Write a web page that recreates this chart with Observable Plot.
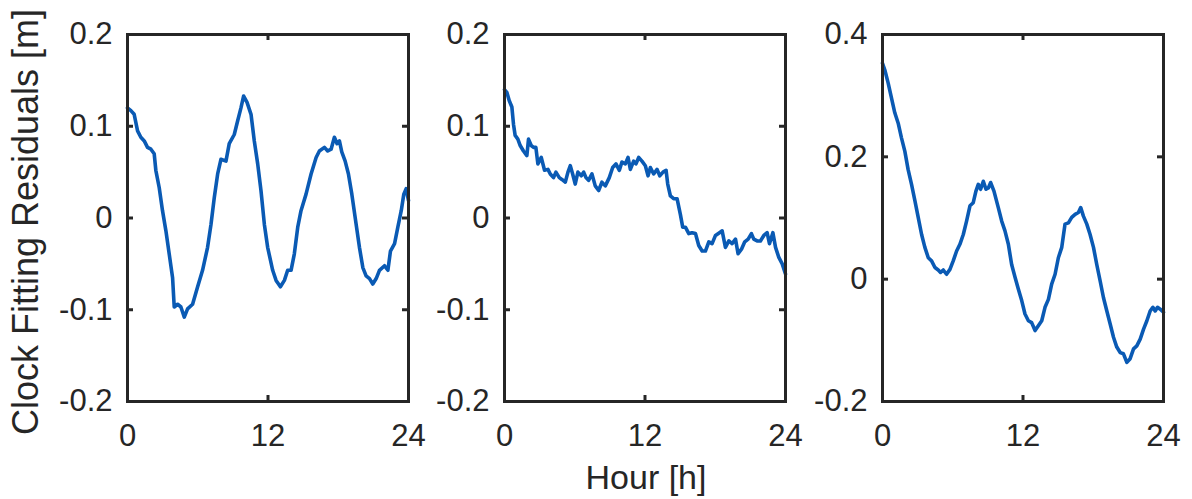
<!DOCTYPE html>
<html>
<head>
<meta charset="utf-8">
<script src="https://cdn.jsdelivr.net/npm/d3@7"></script>
<script src="https://cdn.jsdelivr.net/npm/@observablehq/plot@0.6"></script>
<style>
  html, body { margin: 0; padding: 0; background: #fff; }
  #chart { position: relative; width: 1192px; height: 499px; background: #fff; overflow: hidden;
           font-family: "Liberation Sans", Arial, Helvetica, sans-serif; color: #262626; }
  .panel { position: absolute; top: 0; }
  .panel svg { overflow: visible; background: transparent !important; }
  .ytitle { position: absolute; left: 26px; top: 222px; font-size: 36px; line-height: 1; white-space: nowrap;
            transform: translate(-50%, -50%) rotate(-90deg); }
  .xtitle { position: absolute; left: 646px; top: 477px; font-size: 34px; line-height: 1; white-space: nowrap;
            transform: translate(-50%, -50%); }
</style>
</head>
<body>
<div id="chart"></div>
<script>
// ---- data ----
const xTicks = [0, 12, 24];
const yTicksA = [-0.2, -0.1, 0, 0.1, 0.2];
const yTicksB = [-0.2, 0, 0.2, 0.4];
const xLabel = "Hour [h]";
const yLabel = "Clock Fitting Residuals [m]";

const hours1 = [0, 0.29, 0.57, 0.86, 1.14, 1.43, 1.71, 2.00, 2.28, 2.42,
  2.71, 2.99, 3.28, 3.56, 3.85, 3.99, 4.28, 4.56, 4.85, 5.13,
  5.56, 5.99, 6.41, 6.84, 7.13, 7.41, 7.70, 7.98, 8.41, 8.69,
  9.12, 9.41, 9.69, 9.92, 10.21, 10.55, 10.83, 11.12, 11.40, 11.69,
  11.97, 12.40, 12.69, 13.06, 13.40, 13.68, 13.97, 14.25, 14.54, 14.82,
  15.25, 15.68, 16.11, 16.39, 16.82, 17.10, 17.39, 17.67, 17.90, 18.10,
  18.30, 18.59, 18.87, 19.16, 19.53, 19.81, 20.10, 20.38, 20.67, 20.95,
  21.24, 21.52, 21.95, 22.24, 22.46, 22.81, 23.09, 23.38, 23.60, 23.80, 24.0];
const resid1 = [0.120, 0.117, 0.113, 0.095, 0.088, 0.084, 0.077, 0.075, 0.070, 0.052,
  0.033, 0.008, -0.014, -0.039, -0.065, -0.097, -0.094, -0.097, -0.108, -0.099,
  -0.094, -0.075, -0.057, -0.032, -0.007, 0.022, 0.048, 0.064, 0.062, 0.081,
  0.091, 0.106, 0.120, 0.133, 0.126, 0.113, 0.084, 0.059, 0.030, -0.007,
  -0.032, -0.057, -0.068, -0.075, -0.068, -0.057, -0.057, -0.039, -0.010, 0.008,
  0.026, 0.048, 0.066, 0.073, 0.077, 0.073, 0.075, 0.088, 0.081, 0.084,
  0.072, 0.062, 0.048, 0.026, -0.007, -0.032, -0.054, -0.063, -0.066, -0.072,
  -0.066, -0.057, -0.052, -0.057, -0.036, -0.028, -0.010, 0.008, 0.026, 0.032, 0.019];

const hours2 = [0, 0.20, 0.40, 0.63, 0.77, 0.91, 1.14, 1.34, 1.62, 1.91,
  2.05, 2.28, 2.48, 2.68, 2.85, 3.14, 3.42, 3.71, 3.91, 4.19,
  4.39, 4.68, 4.90, 5.19, 5.42, 5.62, 5.82, 6.04, 6.27, 6.56,
  6.76, 6.96, 7.18, 7.47, 7.75, 8.04, 8.32, 8.61, 8.95, 9.24,
  9.52, 9.81, 10.03, 10.32, 10.55, 10.75, 11.03, 11.23, 11.46, 11.74,
  12.03, 12.26, 12.46, 12.74, 13.03, 13.26, 13.54, 13.80, 13.94, 14.17,
  14.45, 14.74, 15.02, 15.22, 15.45, 15.74, 16.02, 16.31, 16.59, 16.88,
  17.16, 17.45, 17.73, 18.02, 18.36, 18.59, 18.87, 19.16, 19.44, 19.73,
  19.95, 20.24, 20.52, 20.81, 21.09, 21.29, 21.58, 21.86, 22.15, 22.43,
  22.63, 22.92, 23.15, 23.43, 23.72, 24.0];
const resid2 = [0.140, 0.137, 0.128, 0.121, 0.102, 0.090, 0.086, 0.079, 0.073, 0.068,
  0.086, 0.079, 0.077, 0.077, 0.059, 0.066, 0.052, 0.053, 0.048, 0.044,
  0.050, 0.044, 0.042, 0.039, 0.050, 0.057, 0.048, 0.037, 0.050, 0.046,
  0.050, 0.044, 0.041, 0.048, 0.035, 0.030, 0.039, 0.035, 0.044, 0.055,
  0.059, 0.052, 0.061, 0.059, 0.066, 0.053, 0.062, 0.059, 0.066, 0.062,
  0.057, 0.046, 0.055, 0.048, 0.053, 0.046, 0.050, 0.052, 0.037, 0.024,
  0.021, 0.021, 0.004, -0.010, -0.010, -0.017, -0.016, -0.017, -0.030, -0.036,
  -0.036, -0.026, -0.028, -0.019, -0.016, -0.014, -0.032, -0.025, -0.028, -0.023,
  -0.039, -0.034, -0.026, -0.023, -0.017, -0.023, -0.025, -0.025, -0.019, -0.016,
  -0.028, -0.016, -0.032, -0.043, -0.050, -0.061];

const hours3 = [0, 0.20, 0.48, 0.77, 1.05, 1.34, 1.62, 1.91, 2.19, 2.48,
  2.77, 3.05, 3.34, 3.62, 3.91, 4.19, 4.48, 4.76, 4.96, 5.19,
  5.47, 5.76, 6.04, 6.33, 6.61, 6.90, 7.18, 7.47, 7.75, 7.98,
  8.18, 8.38, 8.61, 8.84, 9.04, 9.24, 9.52, 9.89, 10.18, 10.46,
  10.75, 11.03, 11.32, 11.60, 11.89, 12.17, 12.46, 12.74, 13.03, 13.31,
  13.60, 13.88, 14.17, 14.45, 14.74, 15.02, 15.31, 15.59, 15.88, 16.16,
  16.45, 16.73, 16.93, 17.16, 17.45, 17.73, 18.02, 18.30, 18.59, 18.87,
  19.16, 19.44, 19.73, 20.01, 20.30, 20.58, 20.87, 21.15, 21.44, 21.72,
  22.01, 22.29, 22.58, 22.86, 23.09, 23.29, 23.49, 23.72, 24.0];
const resid3 = [0.353, 0.342, 0.321, 0.296, 0.272, 0.255, 0.231, 0.209, 0.179, 0.155,
  0.128, 0.101, 0.073, 0.052, 0.035, 0.030, 0.019, 0.015, 0.011, 0.015,
  0.008, 0.016, 0.030, 0.046, 0.057, 0.073, 0.095, 0.120, 0.125, 0.144,
  0.155, 0.147, 0.160, 0.147, 0.149, 0.158, 0.144, 0.117, 0.095, 0.079,
  0.057, 0.024, 0.003, -0.016, -0.035, -0.057, -0.068, -0.071, -0.084, -0.076,
  -0.068, -0.046, -0.033, -0.008, 0.008, 0.035, 0.052, 0.090, 0.092, 0.101,
  0.106, 0.109, 0.117, 0.103, 0.090, 0.073, 0.052, 0.024, -0.003, -0.030,
  -0.052, -0.073, -0.095, -0.111, -0.120, -0.122, -0.136, -0.130, -0.114, -0.109,
  -0.098, -0.082, -0.068, -0.052, -0.046, -0.052, -0.046, -0.049, -0.054];

// ---- drawing ----
const INK = "#262626";
const BLUE = "#0a5ab4";
const FONT = "'Liberation Sans', Arial, Helvetica, sans-serif";
const chart = document.getElementById("chart");

function zip(h, v) {
  const n = Math.min(h.length, v.length);
  return d3.range(n).map(i => ({hour: h[i], value: v[i]}));
}
const fmt = d => (Math.abs(d) < 1e-9 ? "0" : String(+d.toFixed(2)));

function panel(hours, resid, yDomain, yTicks, frameLeft) {
  const W = 380, H = 450, mL = 87, mT = 34, fW = 281, fH = 367;
  const tick = 6;
  const svg = Plot.plot({
    width: W, height: H,
    marginLeft: mL, marginRight: W - mL - fW, marginTop: mT, marginBottom: H - mT - fH,
    x: {domain: [0, 24], axis: null},
    y: {domain: yDomain, axis: null},
    style: {fontFamily: FONT, color: INK, background: "transparent", overflow: "visible"},
    marks: [
      Plot.line(zip(hours, resid), {x: "hour", y: "value", stroke: BLUE, strokeWidth: 3.6, strokeLinejoin: "round", strokeLinecap: "round"}),
      Plot.tickY(yTicks, {y: d => d, stroke: INK, strokeWidth: 3, insetRight: fW - tick}),
      Plot.tickY(yTicks, {y: d => d, stroke: INK, strokeWidth: 3, insetLeft: fW - tick}),
      Plot.tickX(xTicks, {x: d => d, stroke: INK, strokeWidth: 3, insetTop: fH - tick}),
      Plot.tickX(xTicks, {x: d => d, stroke: INK, strokeWidth: 3, insetBottom: fH - tick}),
      Plot.frame({stroke: INK, strokeWidth: 3}),
      Plot.axisX({ticks: xTicks, tickSize: 0, tickPadding: 22, fontSize: 31, tickFormat: d => String(d), label: null, fill: INK}),
      Plot.axisY({ticks: yTicks, tickSize: 0, tickPadding: 15, fontSize: 31, tickFormat: fmt, label: null, fill: INK})
    ]
  });
  const div = document.createElement("div");
  div.className = "panel";
  div.style.left = (frameLeft - mL) + "px";
  div.appendChild(svg);
  chart.appendChild(div);
}

panel(hours1, resid1, [-0.2, 0.2], yTicksA, 127);
panel(hours2, resid2, [-0.2, 0.2], yTicksA, 504);
panel(hours3, resid3, [-0.2, 0.4], yTicksB, 882);

const yt = document.createElement("div");
yt.className = "ytitle";
yt.textContent = yLabel;
chart.appendChild(yt);
const xt = document.createElement("div");
xt.className = "xtitle";
xt.textContent = xLabel;
chart.appendChild(xt);
</script>
</body>
</html>
